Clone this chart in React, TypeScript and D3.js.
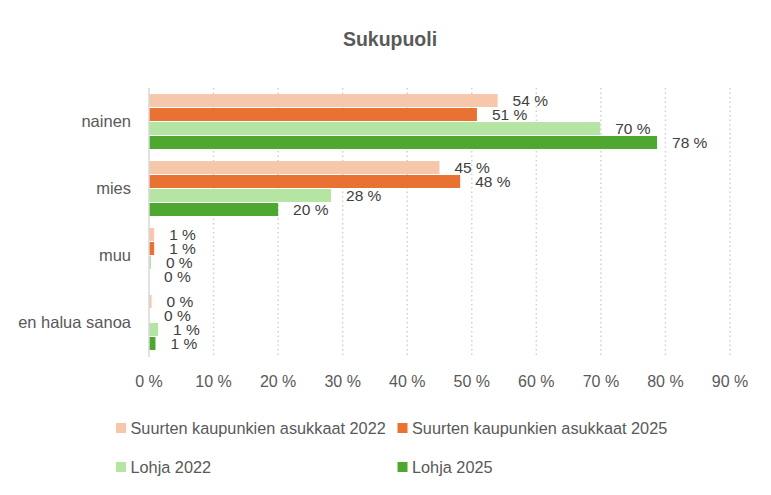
import React from "react";
import * as d3 from "d3";

const categories = ["nainen", "mies", "muu", "en halua sanoa"];
const seriesNames = [
  "Suurten kaupunkien asukkaat 2022",
  "Suurten kaupunkien asukkaat 2025",
  "Lohja 2022",
  "Lohja 2025",
];
const suuret2022 = [54, 45, 0.8, 0.4];
const suuret2025 = [50.8, 48.2, 0.8, 0];
const lohja2022 = [69.9, 28.2, 0.3, 1.4];
const lohja2025 = [78.7, 20, 0, 1];
const labels2022s = ["54 %", "45 %", "1 %", "0 %"];
const labels2025s = ["51 %", "48 %", "1 %", "0 %"];
const labels2022l = ["70 %", "28 %", "0 %", "1 %"];
const labels2025l = ["78 %", "20 %", "0 %", "1 %"];
const xTicks = [0, 10, 20, 30, 40, 50, 60, 70, 80, 90];
const colors = ["#F7C7AC", "#E97132", "#B4E5A2", "#4EA72E"];

const values = [suuret2022, suuret2025, lohja2022, lohja2025];
const labelSets = [labels2022s, labels2025s, labels2022l, labels2025l];

const W = 771;
const H = 495;
const FONT = "'Liberation Sans', Arial, sans-serif";

export default function App() {
  const x = d3.scaleLinear().domain([0, 90]).range([149, 730]);
  const y = d3
    .scaleBand<string>()
    .domain(categories)
    .range([88, 356])
    .paddingInner(0.165)
    .paddingOuter(0.0825);
  const inner = d3
    .scaleBand<number>()
    .domain([0, 1, 2, 3])
    .range([0, y.bandwidth()]);

  return (
    <svg
      width={W}
      height={H}
      style={{ position: "absolute", left: 0, top: 0, background: "#fff" }}
      fontFamily={FONT}
    >
      <text
        x={390}
        y={46}
        textAnchor="middle"
        fontSize={19.5}
        fontWeight="bold"
        fill="#595959"
      >
        Sukupuoli
      </text>
      {xTicks.slice(1).map((t) => (
        <line
          key={t}
          x1={x(t)}
          x2={x(t)}
          y1={88}
          y2={357}
          stroke="#D0D0D0"
          strokeWidth={1.5}
          strokeDasharray="1.5,3"
        />
      ))}
      {categories.map((c, ci) =>
        values.map((vals, si) => {
          const yy = (y(c) as number) + (inner(si) as number);
          const bw = x(vals[ci]) - x(0);
          return (
            <g key={c + si}>
              <rect
                x={x(0)}
                y={yy + 0.5}
                width={Math.max(0, bw)}
                height={inner.bandwidth() - 1}
                fill={colors[si]}
              />
              <text
                x={x(vals[ci]) + 15}
                y={yy + inner.bandwidth() / 2}
                dy="0.35em"
                fontSize={15.5}
                fill="#404040"
              >
                {labelSets[si][ci]}
              </text>
            </g>
          );
        })
      )}
      <line x1={x(0)} x2={x(0)} y1={88} y2={357} stroke="#D9D9D9" strokeWidth={1.5} />
      {categories.map((c) => (
        <text
          key={c}
          x={131}
          y={(y(c) as number) + y.bandwidth() / 2}
          dy="0.35em"
          textAnchor="end"
          fontSize={16.5}
          fill="#595959"
        >
          {c}
        </text>
      ))}
      {xTicks.map((t) => (
        <text
          key={t}
          x={x(t)}
          y={381.5}
          dy="0.35em"
          textAnchor="middle"
          fontSize={16}
          fill="#595959"
        >
          {t} %
        </text>
      ))}
      {seriesNames.map((s, i) => {
        const lx = i % 2 === 0 ? 116 : 397.5;
        const ly = i < 2 ? 428 : 467;
        return (
          <g key={s}>
            <rect x={lx} y={ly - 5} width={10} height={10} fill={colors[i]} />
            <text x={lx + 14.5} y={ly} dy="0.35em" fontSize={16.3} fill="#595959">
              {s}
            </text>
          </g>
        );
      })}
    </svg>
  );
}
